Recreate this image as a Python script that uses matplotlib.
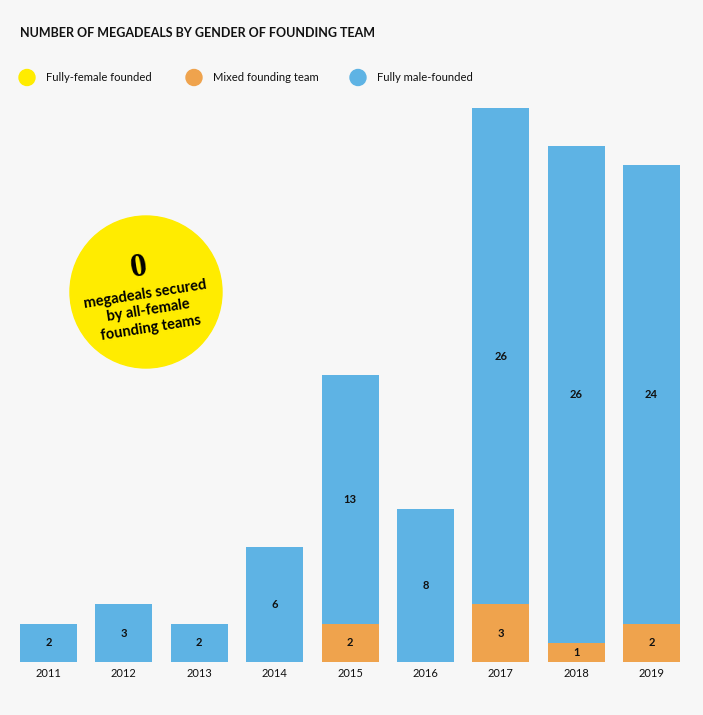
import matplotlib.pyplot as plt
from matplotlib.patches import Circle

# data
years = ["2011", "2012", "2013", "2014", "2015", "2016", "2017", "2018", "2019"]
female = [0, 0, 0, 0, 0, 0, 0, 0, 0]
mixed = [0, 0, 0, 0, 2, 0, 3, 1, 2]
male = [2, 3, 2, 6, 13, 8, 26, 26, 24]

series_labels = ["Fully-female founded", "Mixed founding team", "Fully male-founded"]
colors = ["#ffec00", "#efa34d", "#5eb3e4"]
bg = "#f7f7f7"

plt.rcParams['font.family'] = ['Lato', 'DejaVu Sans']

W, H = 703, 715
fig = plt.figure(figsize=(W / 100, H / 100), dpi=100, facecolor=bg)

# bars axes placed in pixel terms
left_px, right_px = 20, 680
base_px, top_px = 661.7, 108
ax = fig.add_axes([left_px / W, (H - base_px) / H, (right_px - left_px) / W, (base_px - top_px) / H])
ax.set_facecolor(bg)

n = len(years)
pitch = (right_px - left_px - 57) / (n - 1)
width = 57 / pitch
x = list(range(n))
ax.set_xlim(-width / 2, n - 1 + width / 2)
ax.set_ylim(0, max(m + k + f for m, k, f in zip(male, mixed, female)))

ax.bar(x, female, width, color=colors[0])
ax.bar(x, mixed, width, bottom=female, color=colors[1])
bottoms = [f + m for f, m in zip(female, mixed)]
ax.bar(x, male, width, bottom=bottoms, color=colors[2])

for i in x:
    if mixed[i]:
        ax.text(i, female[i] + mixed[i] / 2, str(mixed[i]), ha='center', va='center',
                fontsize=8, fontweight='bold', color='#111111')
    ax.text(i, bottoms[i] + male[i] / 2, str(male[i]), ha='center', va='center',
            fontsize=8, fontweight='bold', color='#111111')

ax.set_xticks(x)
ax.set_xticklabels(years, fontsize=8, color='#111111')
ax.tick_params(axis='x', length=0, pad=4.5)
ax.set_yticks([])
for s in ax.spines.values():
    s.set_visible(False)

# overlay in pixel coords for title, legend and circle
ov = fig.add_axes([0, 0, 1, 1], facecolor='none')
ov.set_xlim(0, W)
ov.set_ylim(H, 0)
ov.axis('off')

ov.text(20, 33, "NUMBER OF MEGADEALS BY GENDER OF FOUNDING TEAM", fontsize=9,
        fontweight='bold', color='#111111', va='center', ha='left')

leg_x = [27, 194, 358]
for lx, lab, c in zip(leg_x, series_labels, colors):
    ov.add_patch(Circle((lx, 77.5), 8, color=c))
    ov.text(lx + 19, 77.5, lab, fontsize=8.1, color='#111111', va='center', ha='left')

ov.add_patch(Circle((146, 292), 76, color=colors[0]))
ov.text(139, 267, "0", fontsize=24, fontweight='bold', family=['Liberation Serif', 'DejaVu Serif'],
        color='#000000', ha='center', va='center', rotation=9)
ov.text(148, 311, "megadeals secured\nby all-female\nfounding teams", fontsize=10.5,
        fontweight='bold', color='#000000', ha='center', va='center', rotation=9,
        rotation_mode='anchor', linespacing=1.3)

fig.savefig("out.png", dpi=100, facecolor=bg)
